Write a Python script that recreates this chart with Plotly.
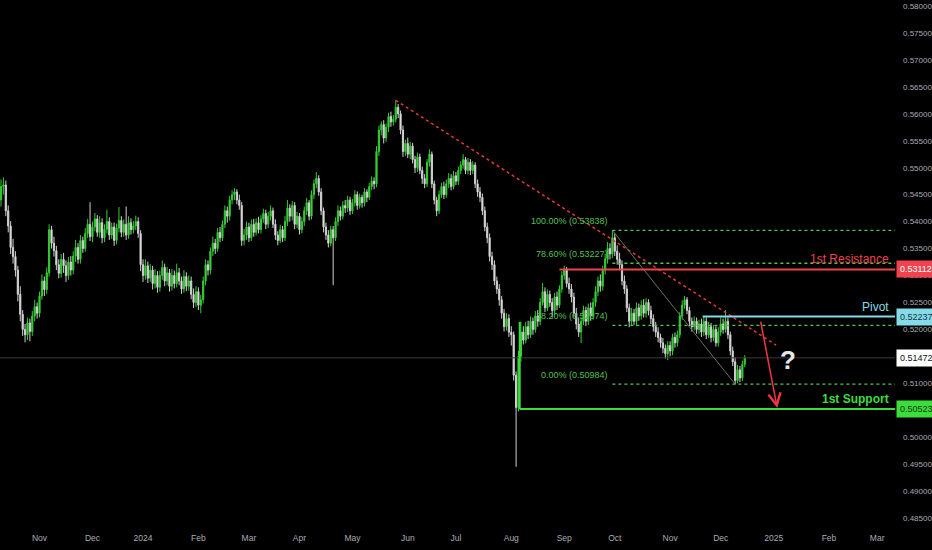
import pandas as pd
import plotly.graph_objects as go

# daily NZD/CHF candles, Oct 10 2023 .. Dec 13 2024 (weekdays)
start_date = "2023-10-10"

open_ = [
    0.5440, 0.5465, 0.5468, 0.5420, 0.5392, 0.5352, 0.5335, 0.5310, 0.5265, 0.5228,
    0.5200, 0.5190, 0.5212, 0.5196, 0.5225, 0.5242, 0.5230, 0.5262, 0.5290, 0.5274,
    0.5305, 0.5385, 0.5360, 0.5346, 0.5320, 0.5304, 0.5330, 0.5318, 0.5300, 0.5325,
    0.5310, 0.5336, 0.5352, 0.5330, 0.5365, 0.5350, 0.5378, 0.5395, 0.5372, 0.5390,
    0.5405, 0.5380, 0.5398, 0.5370, 0.5386, 0.5400, 0.5375, 0.5390, 0.5365, 0.5388,
    0.5402, 0.5380, 0.5395, 0.5375, 0.5398, 0.5385, 0.5392, 0.5400, 0.5378, 0.5320,
    0.5300, 0.5318, 0.5295, 0.5310, 0.5285, 0.5300, 0.5278, 0.5300, 0.5315, 0.5290,
    0.5305, 0.5280, 0.5300, 0.5285, 0.5305, 0.5290, 0.5275, 0.5298, 0.5280, 0.5290,
    0.5265, 0.5250, 0.5270, 0.5245, 0.5255, 0.5290, 0.5320, 0.5310, 0.5345, 0.5360,
    0.5350, 0.5380, 0.5370, 0.5395, 0.5420, 0.5410, 0.5440, 0.5450, 0.5455, 0.5440,
    0.5430, 0.5365, 0.5375, 0.5390, 0.5370, 0.5395, 0.5380, 0.5398, 0.5385, 0.5405,
    0.5415, 0.5395, 0.5410, 0.5420, 0.5395, 0.5375, 0.5365, 0.5385, 0.5370, 0.5400,
    0.5425, 0.5410, 0.5430, 0.5395, 0.5410, 0.5385, 0.5400, 0.5420, 0.5435, 0.5410,
    0.5450, 0.5470, 0.5480, 0.5455, 0.5420, 0.5390, 0.5375, 0.5360, 0.5385, 0.5370,
    0.5400, 0.5420, 0.5410, 0.5430, 0.5425, 0.5440, 0.5420, 0.5435, 0.5450, 0.5430,
    0.5445, 0.5435, 0.5455, 0.5445, 0.5465, 0.5475, 0.5470, 0.5530, 0.5570, 0.5580,
    0.5555, 0.5575, 0.5595, 0.5585, 0.5590, 0.5612, 0.5600, 0.5570, 0.5530, 0.5545,
    0.5525, 0.5540, 0.5515, 0.5500, 0.5520, 0.5495, 0.5480, 0.5470, 0.5510, 0.5525,
    0.5470, 0.5440, 0.5420, 0.5450, 0.5465, 0.5450, 0.5470, 0.5480, 0.5465, 0.5485,
    0.5475, 0.5495, 0.5505, 0.5515, 0.5495, 0.5510, 0.5495, 0.5505, 0.5470, 0.5455,
    0.5445, 0.5420, 0.5390, 0.5370, 0.5335, 0.5320, 0.5290, 0.5275, 0.5255, 0.5230,
    0.5205, 0.5220, 0.5195, 0.5190, 0.5115, 0.5055, 0.5150, 0.5195, 0.5180, 0.5205,
    0.5190, 0.5215, 0.5200, 0.5225, 0.5215, 0.5250, 0.5270, 0.5240, 0.5265, 0.5250,
    0.5235, 0.5260, 0.5245, 0.5275, 0.5300, 0.5310, 0.5285, 0.5275, 0.5260, 0.5230,
    0.5210, 0.5195, 0.5215, 0.5235, 0.5215, 0.5240, 0.5225, 0.5250, 0.5270, 0.5290,
    0.5280, 0.5310, 0.5330, 0.5350, 0.5340, 0.5370, 0.5345, 0.5330, 0.5320, 0.5290,
    0.5275, 0.5240, 0.5215, 0.5230, 0.5215, 0.5240, 0.5225, 0.5245, 0.5230, 0.5250,
    0.5235, 0.5220, 0.5205, 0.5195, 0.5185, 0.5175, 0.5165, 0.5155, 0.5170, 0.5160,
    0.5185, 0.5175, 0.5190, 0.5225, 0.5245, 0.5255, 0.5235, 0.5215, 0.5205, 0.5215,
    0.5200, 0.5210, 0.5195, 0.5215, 0.5190, 0.5205, 0.5185, 0.5200, 0.5175, 0.5195,
    0.5210, 0.5200, 0.5215, 0.5190, 0.5160, 0.5140, 0.5105, 0.5125, 0.5110, 0.5135,
]

high = [
    0.5478, 0.5482, 0.5476, 0.5430, 0.5401, 0.5368, 0.5345, 0.5318, 0.5280, 0.5236,
    0.5210, 0.5222, 0.5220, 0.5234, 0.5255, 0.5250, 0.5270, 0.5302, 0.5298, 0.5315,
    0.5395, 0.5392, 0.5372, 0.5355, 0.5330, 0.5340, 0.5342, 0.5328, 0.5334, 0.5336,
    0.5345, 0.5366, 0.5360, 0.5375, 0.5372, 0.5388, 0.5405, 0.5436, 0.5400, 0.5416,
    0.5412, 0.5410, 0.5406, 0.5395, 0.5422, 0.5408, 0.5398, 0.5398, 0.5396, 0.5427,
    0.5410, 0.5404, 0.5428, 0.5410, 0.5406, 0.5401, 0.5411, 0.5408, 0.5384, 0.5330,
    0.5330, 0.5326, 0.5321, 0.5318, 0.5312, 0.5308, 0.5309, 0.5328, 0.5322, 0.5316,
    0.5312, 0.5312, 0.5309, 0.5322, 0.5314, 0.5298, 0.5310, 0.5306, 0.5300, 0.5298,
    0.5276, 0.5280, 0.5278, 0.5264, 0.5298, 0.5330, 0.5328, 0.5352, 0.5372, 0.5368,
    0.5388, 0.5390, 0.5402, 0.5430, 0.5428, 0.5448, 0.5458, 0.5462, 0.5460, 0.5450,
    0.5436, 0.5386, 0.5400, 0.5398, 0.5404, 0.5405, 0.5406, 0.5409, 0.5412, 0.5424,
    0.5422, 0.5418, 0.5430, 0.5426, 0.5404, 0.5382, 0.5394, 0.5392, 0.5410, 0.5440,
    0.5432, 0.5438, 0.5436, 0.5418, 0.5416, 0.5408, 0.5428, 0.5444, 0.5440, 0.5458,
    0.5478, 0.5492, 0.5486, 0.5462, 0.5426, 0.5398, 0.5384, 0.5392, 0.5392, 0.5408,
    0.5430, 0.5428, 0.5438, 0.5440, 0.5448, 0.5446, 0.5442, 0.5458, 0.5456, 0.5452,
    0.5450, 0.5462, 0.5460, 0.5472, 0.5484, 0.5482, 0.5540, 0.5578, 0.5586, 0.5588,
    0.5582, 0.5602, 0.5604, 0.5598, 0.5625, 0.5618, 0.5606, 0.5578, 0.5552, 0.5556,
    0.5548, 0.5546, 0.5522, 0.5528, 0.5526, 0.5502, 0.5488, 0.5516, 0.5534, 0.5530,
    0.5476, 0.5446, 0.5458, 0.5472, 0.5474, 0.5478, 0.5490, 0.5488, 0.5494, 0.5492,
    0.5502, 0.5512, 0.5525, 0.5520, 0.5518, 0.5516, 0.5512, 0.5510, 0.5478, 0.5464,
    0.5452, 0.5428, 0.5398, 0.5378, 0.5344, 0.5328, 0.5298, 0.5284, 0.5262, 0.5238,
    0.5230, 0.5228, 0.5206, 0.5196, 0.5122, 0.5160, 0.5214, 0.5206, 0.5214, 0.5216,
    0.5224, 0.5222, 0.5234, 0.5236, 0.5258, 0.5286, 0.5278, 0.5274, 0.5272, 0.5258,
    0.5268, 0.5270, 0.5282, 0.5308, 0.5318, 0.5316, 0.5296, 0.5284, 0.5268, 0.5240,
    0.5222, 0.5222, 0.5244, 0.5242, 0.5248, 0.5250, 0.5258, 0.5280, 0.5298, 0.5302,
    0.5318, 0.5340, 0.5362, 0.5360, 0.5384, 0.5378, 0.5356, 0.5342, 0.5328, 0.5300,
    0.5282, 0.5248, 0.5240, 0.5238, 0.5250, 0.5248, 0.5254, 0.5256, 0.5258, 0.5256,
    0.5244, 0.5228, 0.5214, 0.5204, 0.5192, 0.5184, 0.5172, 0.5178, 0.5178, 0.5192,
    0.5194, 0.5198, 0.5232, 0.5254, 0.5262, 0.5260, 0.5242, 0.5222, 0.5224, 0.5222,
    0.5218, 0.5220, 0.5224, 0.5222, 0.5214, 0.5212, 0.5208, 0.5206, 0.5204, 0.5222,
    0.5220, 0.5236, 0.5222, 0.5196, 0.5168, 0.5148, 0.5134, 0.5132, 0.5142, 0.5152,
]

low = [
    0.5428, 0.5450, 0.5410, 0.5380, 0.5340, 0.5322, 0.5298, 0.5252, 0.5215, 0.5188,
    0.5176, 0.5180, 0.5178, 0.5188, 0.5215, 0.5220, 0.5222, 0.5255, 0.5262, 0.5266,
    0.5298, 0.5350, 0.5335, 0.5310, 0.5295, 0.5296, 0.5305, 0.5288, 0.5292, 0.5300,
    0.5302, 0.5325, 0.5322, 0.5322, 0.5342, 0.5344, 0.5370, 0.5364, 0.5362, 0.5382,
    0.5372, 0.5370, 0.5360, 0.5362, 0.5378, 0.5366, 0.5368, 0.5355, 0.5358, 0.5380,
    0.5371, 0.5372, 0.5366, 0.5368, 0.5376, 0.5378, 0.5384, 0.5370, 0.5308, 0.5288,
    0.5292, 0.5286, 0.5288, 0.5274, 0.5276, 0.5268, 0.5270, 0.5292, 0.5280, 0.5282,
    0.5270, 0.5272, 0.5276, 0.5278, 0.5282, 0.5266, 0.5268, 0.5271, 0.5272, 0.5256,
    0.5240, 0.5242, 0.5236, 0.5230, 0.5248, 0.5282, 0.5300, 0.5302, 0.5336, 0.5340,
    0.5344, 0.5362, 0.5364, 0.5388, 0.5398, 0.5402, 0.5432, 0.5440, 0.5432, 0.5422,
    0.5355, 0.5356, 0.5366, 0.5362, 0.5364, 0.5372, 0.5374, 0.5378, 0.5378, 0.5398,
    0.5386, 0.5388, 0.5402, 0.5388, 0.5366, 0.5356, 0.5360, 0.5362, 0.5364, 0.5392,
    0.5400, 0.5402, 0.5386, 0.5388, 0.5376, 0.5378, 0.5392, 0.5412, 0.5402, 0.5404,
    0.5442, 0.5462, 0.5448, 0.5412, 0.5380, 0.5366, 0.5352, 0.5354, 0.5282, 0.5364,
    0.5392, 0.5402, 0.5404, 0.5416, 0.5418, 0.5412, 0.5414, 0.5428, 0.5422, 0.5424,
    0.5426, 0.5428, 0.5436, 0.5440, 0.5458, 0.5460, 0.5464, 0.5522, 0.5560, 0.5545,
    0.5548, 0.5566, 0.5576, 0.5578, 0.5584, 0.5592, 0.5562, 0.5520, 0.5522, 0.5518,
    0.5516, 0.5508, 0.5490, 0.5492, 0.5488, 0.5470, 0.5462, 0.5464, 0.5502, 0.5462,
    0.5432, 0.5410, 0.5414, 0.5444, 0.5442, 0.5444, 0.5462, 0.5458, 0.5460, 0.5468,
    0.5468, 0.5488, 0.5498, 0.5488, 0.5488, 0.5486, 0.5488, 0.5462, 0.5446, 0.5436,
    0.5412, 0.5382, 0.5360, 0.5326, 0.5310, 0.5282, 0.5266, 0.5244, 0.5220, 0.5196,
    0.5198, 0.5186, 0.5170, 0.5105, 0.4945, 0.5048, 0.5140, 0.5172, 0.5174, 0.5182,
    0.5184, 0.5190, 0.5194, 0.5205, 0.5208, 0.5244, 0.5232, 0.5234, 0.5242, 0.5222,
    0.5226, 0.5236, 0.5240, 0.5268, 0.5292, 0.5278, 0.5266, 0.5250, 0.5222, 0.5200,
    0.5186, 0.5175, 0.5208, 0.5206, 0.5208, 0.5216, 0.5218, 0.5242, 0.5262, 0.5270,
    0.5272, 0.5302, 0.5322, 0.5330, 0.5332, 0.5336, 0.5320, 0.5310, 0.5282, 0.5266,
    0.5232, 0.5204, 0.5206, 0.5208, 0.5206, 0.5216, 0.5218, 0.5222, 0.5222, 0.5226,
    0.5210, 0.5196, 0.5186, 0.5176, 0.5166, 0.5156, 0.5146, 0.5143, 0.5150, 0.5152,
    0.5166, 0.5168, 0.5184, 0.5218, 0.5238, 0.5228, 0.5206, 0.5196, 0.5198, 0.5192,
    0.5192, 0.5186, 0.5188, 0.5182, 0.5184, 0.5176, 0.5178, 0.5168, 0.5168, 0.5188,
    0.5192, 0.5194, 0.5182, 0.5152, 0.5132, 0.5098, 0.5100, 0.5102, 0.5104, 0.5130,
]

close = [
    0.5465, 0.5468, 0.5420, 0.5392, 0.5352, 0.5335, 0.5310, 0.5265, 0.5228, 0.5200,
    0.5190, 0.5212, 0.5196, 0.5225, 0.5242, 0.5230, 0.5262, 0.5290, 0.5274, 0.5305,
    0.5385, 0.5360, 0.5346, 0.5320, 0.5304, 0.5330, 0.5318, 0.5300, 0.5325, 0.5310,
    0.5336, 0.5352, 0.5330, 0.5365, 0.5350, 0.5378, 0.5395, 0.5372, 0.5390, 0.5405,
    0.5380, 0.5398, 0.5370, 0.5386, 0.5400, 0.5375, 0.5390, 0.5365, 0.5388, 0.5402,
    0.5380, 0.5395, 0.5375, 0.5398, 0.5385, 0.5392, 0.5400, 0.5378, 0.5320, 0.5300,
    0.5318, 0.5295, 0.5310, 0.5285, 0.5300, 0.5278, 0.5300, 0.5315, 0.5290, 0.5305,
    0.5280, 0.5300, 0.5285, 0.5305, 0.5290, 0.5275, 0.5298, 0.5280, 0.5290, 0.5265,
    0.5250, 0.5270, 0.5245, 0.5255, 0.5290, 0.5320, 0.5310, 0.5345, 0.5360, 0.5350,
    0.5380, 0.5370, 0.5395, 0.5420, 0.5410, 0.5440, 0.5450, 0.5455, 0.5440, 0.5430,
    0.5365, 0.5375, 0.5390, 0.5370, 0.5395, 0.5380, 0.5398, 0.5385, 0.5405, 0.5415,
    0.5395, 0.5410, 0.5420, 0.5395, 0.5375, 0.5365, 0.5385, 0.5370, 0.5400, 0.5425,
    0.5410, 0.5430, 0.5395, 0.5410, 0.5385, 0.5400, 0.5420, 0.5435, 0.5410, 0.5450,
    0.5470, 0.5480, 0.5455, 0.5420, 0.5390, 0.5375, 0.5360, 0.5385, 0.5370, 0.5400,
    0.5420, 0.5410, 0.5430, 0.5425, 0.5440, 0.5420, 0.5435, 0.5450, 0.5430, 0.5445,
    0.5435, 0.5455, 0.5445, 0.5465, 0.5475, 0.5470, 0.5530, 0.5570, 0.5580, 0.5555,
    0.5575, 0.5595, 0.5585, 0.5590, 0.5612, 0.5600, 0.5570, 0.5530, 0.5545, 0.5525,
    0.5540, 0.5515, 0.5500, 0.5520, 0.5495, 0.5480, 0.5470, 0.5510, 0.5525, 0.5470,
    0.5440, 0.5420, 0.5450, 0.5465, 0.5450, 0.5470, 0.5480, 0.5465, 0.5485, 0.5475,
    0.5495, 0.5505, 0.5515, 0.5495, 0.5510, 0.5495, 0.5505, 0.5470, 0.5455, 0.5445,
    0.5420, 0.5390, 0.5370, 0.5335, 0.5320, 0.5290, 0.5275, 0.5255, 0.5230, 0.5205,
    0.5220, 0.5195, 0.5190, 0.5115, 0.5055, 0.5150, 0.5195, 0.5180, 0.5205, 0.5190,
    0.5215, 0.5200, 0.5225, 0.5215, 0.5250, 0.5270, 0.5240, 0.5265, 0.5250, 0.5235,
    0.5260, 0.5245, 0.5275, 0.5300, 0.5310, 0.5285, 0.5275, 0.5260, 0.5230, 0.5210,
    0.5195, 0.5215, 0.5235, 0.5215, 0.5240, 0.5225, 0.5250, 0.5270, 0.5290, 0.5280,
    0.5310, 0.5330, 0.5350, 0.5340, 0.5370, 0.5345, 0.5330, 0.5320, 0.5290, 0.5275,
    0.5240, 0.5215, 0.5230, 0.5215, 0.5240, 0.5225, 0.5245, 0.5230, 0.5250, 0.5235,
    0.5220, 0.5205, 0.5195, 0.5185, 0.5175, 0.5165, 0.5155, 0.5170, 0.5160, 0.5185,
    0.5175, 0.5190, 0.5225, 0.5245, 0.5255, 0.5235, 0.5215, 0.5205, 0.5215, 0.5200,
    0.5210, 0.5195, 0.5215, 0.5190, 0.5205, 0.5185, 0.5200, 0.5175, 0.5195, 0.5210,
    0.5200, 0.5215, 0.5190, 0.5160, 0.5140, 0.5105, 0.5125, 0.5110, 0.5135, 0.5147,
]

month_ticks = [
    "2023-11-01", "2023-12-01", "2024-01-01", "2024-02-01", "2024-03-01",
    "2024-04-01", "2024-05-01", "2024-06-03", "2024-07-01", "2024-08-01",
    "2024-09-02", "2024-10-01", "2024-11-01", "2024-12-02", "2025-01-01",
    "2025-02-03", "2025-03-03",
]
month_labels = [
    "Nov", "Dec", "2024", "Feb", "Mar", "Apr", "May", "Jun", "Jul", "Aug",
    "Sep", "Oct", "Nov", "Dec", "2025", "Feb", "Mar",
]
price_ticks = [0.485 + 0.005 * k for k in range(20)]

# drawn levels
last_price = 0.51472
resistance = 0.53112
pivot = 0.52237
support = 0.50523
fib_high = 0.53838
fib_low = 0.50984
fib_levels = [1.0, 0.786, 0.382, 0.0]
fib_labels = ["100.00% (0.53838)", "78.60% (0.53227)", "38.20% (0.52074)", "0.00% (0.50984)"]

x_start = "2023-10-09 14:00"
x_end = "2025-03-12 10:00"
FONT = "Liberation Sans Narrow, Liberation Sans, Arial, sans-serif"
AXIS_GREY = "#a9acb3"
FIB_GREEN = "#52c152"
RED = "#f0434f"
CYAN = "#86dbe8"
LIME = "#3ddc3d"

dates = pd.bdate_range(start_date, periods=len(close))

candles = go.Candlestick(
    x=dates,
    open=open_,
    high=high,
    low=low,
    close=close,
    increasing=dict(line=dict(color="#34cc34", width=1), fillcolor="#3ad63a"),
    decreasing=dict(line=dict(color="#d0d0d0", width=1), fillcolor="#ececec"),
    whiskerwidth=0,
    hoverinfo="skip",
)

shapes = [
    # last price line
    dict(type="line", xref="paper", x0=0, x1=1, yref="y", y0=last_price, y1=last_price,
         line=dict(color="#3a3a3a", width=1)),
    # falling trend line from the May high
    dict(type="line", xref="x", yref="y", x0="2024-05-27", y0=0.5625,
         x1="2025-01-02", y1=0.5171,
         line=dict(color="#e0393e", width=1.5, dash="dot")),
    # fib diagonal
    dict(type="line", xref="x", yref="y", x0="2024-09-30", y0=fib_high,
         x1="2024-12-10", y1=fib_low,
         line=dict(color="#66745a", width=1)),
    # 1st resistance
    dict(type="line", xref="x", yref="y", x0="2024-08-29", x1=x_end,
         y0=resistance, y1=resistance, line=dict(color=RED, width=2)),
    # pivot
    dict(type="line", xref="x", yref="y", x0="2024-11-20 12:00", x1=x_end,
         y0=pivot, y1=pivot, line=dict(color=CYAN, width=2)),
    # 1st support (with its vertical leg)
    dict(type="line", xref="x", yref="y", x0="2024-08-06 12:00", x1="2024-08-06 12:00",
         y0=0.5214, y1=support, line=dict(color=LIME, width=2)),
    dict(type="line", xref="x", yref="y", x0="2024-08-06 12:00", x1=x_end,
         y0=support, y1=support, line=dict(color=LIME, width=2)),
]

annotations = []
for lvl, lab in zip(fib_levels, fib_labels):
    price = fib_low + lvl * (fib_high - fib_low)
    shapes.append(
        dict(type="line", xref="x", yref="y", x0="2024-09-30", x1=x_end,
             y0=price, y1=price, line=dict(color=FIB_GREEN, width=1.3, dash="dot"))
    )
    annotations.append(
        dict(x="2024-09-27", y=price, xref="x", yref="y", text=lab, showarrow=False,
             xanchor="right", yanchor="bottom", yshift=2,
             font=dict(family=FONT, size=9, color=FIB_GREEN))
    )

for txt, lvl, col in [("1st Resistance", resistance, RED),
                      ("Pivot", pivot, CYAN),
                      ("<b>1st Support</b>", support, LIME)]:
    annotations.append(
        dict(x=0.995, y=lvl, xref="paper", yref="y", text=txt, showarrow=False,
             xanchor="right", yanchor="bottom", yshift=1,
             font=dict(family=FONT, size=12, color=col))
    )

for lvl, bg, fg in [(resistance, RED, "#ffffff"),
                    (pivot, CYAN, "#0e3440"),
                    (last_price, "#ffffff", "#111111"),
                    (support, LIME, "#0b3a0b")]:
    annotations.append(
        dict(x=1, y=lvl, xref="paper", yref="y", text=f"{lvl:.5f}", showarrow=False,
             xanchor="left", yanchor="middle", xshift=1, bgcolor=bg, borderpad=3,
             font=dict(family=FONT, size=9, color=fg))
    )

annotations.append(
    dict(x="2025-01-09", y=0.5143, xref="x", yref="y", text="<b>?</b>", showarrow=False,
         font=dict(family="Liberation Sans, Arial, sans-serif", size=26, color="#e6e6e6"))
)
annotations.append(
    dict(x="2025-01-02 12:00", y=0.5054, xref="x", yref="y", text="",
         ax="2024-12-24 12:00", ay=0.5217, axref="x", ayref="y",
         showarrow=True, arrowhead=5, arrowsize=1.6, arrowwidth=1.5, arrowcolor="#f23645")
)

fig = go.Figure(data=[candles])
fig.update_layout(
    width=932,
    height=550,
    margin=dict(l=0, r=35, t=0, b=25),
    paper_bgcolor="#000000",
    plot_bgcolor="#000000",
    showlegend=False,
    hovermode=False,
    shapes=shapes,
    annotations=annotations,
    font=dict(family=FONT, size=9, color=AXIS_GREY),
    xaxis=dict(
        type="date",
        range=[x_start, x_end],
        rangeslider=dict(visible=False),
        rangebreaks=[dict(bounds=["sat", "mon"])],
        tickvals=month_ticks,
        ticktext=month_labels,
        showgrid=False,
        zeroline=False,
        showline=False,
        ticks="",
        ticklabelstandoff=6,
        tickfont=dict(family=FONT, size=8.5, color=AXIS_GREY),
    ),
    yaxis=dict(
        side="right",
        range=[0.48371, 0.58111],
        tickvals=price_ticks,
        tickformat=".5f",
        showgrid=False,
        zeroline=False,
        showline=False,
        ticks="",
        ticklabelstandoff=7,
        tickfont=dict(family=FONT, size=8, color=AXIS_GREY),
    ),
)

# page body has a default 8px margin; drop it so the chart fills the window
fig.write_html(
    "out.html",
    config={"displayModeBar": False},
    post_script="document.body.style.margin='0px';document.body.style.background='#000';",
)
